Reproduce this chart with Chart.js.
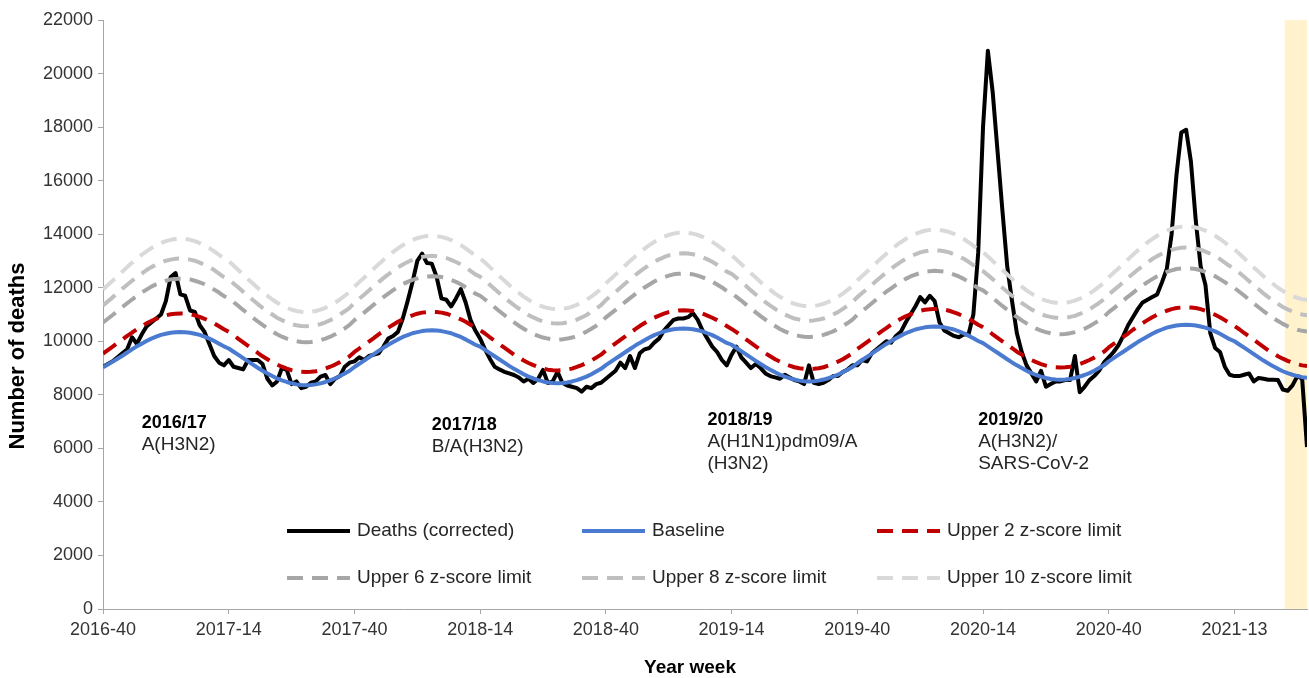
<!DOCTYPE html>
<html>
<head>
<meta charset="utf-8">
<script src="https://cdn.jsdelivr.net/npm/chart.js@4.4.1/dist/chart.umd.min.js"></script>
<style>
  html, body { margin: 0; padding: 0; background: #fff; }
  #wrap { width: 1309px; height: 678px; position: relative; }
</style>
</head>
<body>
<div id="wrap"><canvas id="chart"></canvas></div>
<script>
// week categories, 2016-40 .. 2021-28 (2020 has 53 weeks)
var weekLabels = [];
(function () {
  var y = 2016, w = 40;
  while (!(y === 2021 && w > 28)) {
    weekLabels.push(y + '-' + (w < 10 ? '0' + w : w));
    w++;
    if (w > (y === 2020 ? 53 : 52)) { w = 1; y++; }
  }
})();

var tickEvery = 26;          // a label every 26 weeks
var shadeFrom = '2021-23';   // weeks still subject to reporting delay

// Deaths (corrected)
var deaths = [
  // 2016/17
  9050, 9150, 9250, 9400, 9550, 9700, 10150, 9900, 10250, 10550, 10700, 10850, 11000,
  11500, 12400, 12550, 11750, 11700, 11150, 11100, 10600, 10350, 9900, 9450, 9200, 9100,
  9300, 9050, 9000, 8950, 9300, 9300, 9300, 9150, 8600, 8350, 8500, 9000, 8930,
  8400, 8500, 8250, 8300, 8450, 8500, 8680, 8740, 8400, 8600, 8700, 9050, 9200,
  // 2017/18
  9250, 9400, 9300, 9450, 9500, 9550, 9800, 10100, 10200, 10350, 10850, 11500, 12200,
  13000, 13270, 12920, 12900, 12400, 11600, 11550, 11300, 11600, 11950, 11450, 10800, 10400,
  10100, 9700, 9350, 9050, 8950, 8860, 8800, 8740, 8650, 8500, 8600, 8440, 8600,
  8930, 8440, 8500, 8860, 8450, 8350, 8300, 8250, 8120, 8300, 8250, 8400, 8450,
  // 2018/19
  8600, 8750, 8900, 9200, 9000, 9450, 9000, 9550, 9700, 9750, 9950, 10100, 10400,
  10600, 10800, 10850, 10850, 10900, 11050, 10800, 10400, 10100, 9800, 9600, 9300, 9100,
  9500, 9800, 9400, 9200, 9000, 9150, 9000, 8800, 8700, 8650, 8600, 8750, 8650,
  8550, 8500, 8400, 9100, 8450, 8400, 8450, 8550, 8700, 8700, 8850, 8950, 9100,
  // 2019/20
  9100, 9300, 9250, 9550, 9700, 9850, 10000, 9950, 10200, 10350, 10700, 11000, 11300,
  11650, 11450, 11700, 11500, 10700, 10400, 10300, 10200, 10150, 10250, 10250, 11000, 13300,
  18000, 20850, 19300, 17100, 14900, 12800, 11500, 10300, 9600, 9100, 8800, 8500, 8900,
  8300, 8400, 8500, 8500, 8550, 8550, 9450, 8100, 8300, 8550, 8700, 8900, 9200,
  // 2020/21
  9400, 9600, 9850, 10200, 10600, 10900, 11200, 11450, 11550, 11650, 11750, 12200, 12700,
  14000, 16200, 17800, 17900, 16700, 14500, 12800, 12100, 10300, 9750, 9600, 9050, 8750,
  8700, 8700, 8750, 8800, 8500, 8630, 8600, 8560, 8560, 8550, 8200, 8150, 8350,
  8700, 8600, 6050
];

var baseline = [
  9030, 9130, 9240, 9350, 9460, 9580, 9700, 9810, 9910, 10010, 10100, 10170, 10240,
  10280, 10320, 10340, 10350, 10340, 10320, 10280, 10240, 10170, 10100, 10010, 9910, 9810,
  9730, 9610, 9490, 9370, 9250, 9130, 9010, 8900, 8800, 8700, 8610, 8540, 8480,
  8430, 8390, 8370, 8360, 8370, 8390, 8430, 8480, 8540, 8610, 8700, 8800, 8900,
  9040, 9160, 9280, 9400, 9520, 9640, 9760, 9870, 9970, 10070, 10160, 10230, 10300,
  10340, 10380, 10400, 10410, 10400, 10380, 10340, 10300, 10230, 10160, 10070, 9970, 9870,
  9800, 9680, 9560, 9440, 9320, 9200, 9080, 8970, 8870, 8770, 8680, 8610, 8550,
  8500, 8460, 8440, 8430, 8440, 8460, 8500, 8550, 8610, 8680, 8770, 8870, 8970,
  9110, 9230, 9350, 9470, 9590, 9710, 9830, 9940, 10040, 10140, 10230, 10300, 10370,
  10410, 10450, 10470, 10480, 10470, 10450, 10410, 10370, 10300, 10230, 10140, 10040, 9940,
  9870, 9750, 9630, 9510, 9390, 9270, 9150, 9040, 8940, 8840, 8750, 8680, 8620,
  8570, 8530, 8510, 8500, 8510, 8530, 8570, 8620, 8680, 8750, 8840, 8940, 9040,
  9180, 9300, 9420, 9540, 9660, 9780, 9900, 10010, 10110, 10210, 10300, 10370, 10440,
  10480, 10520, 10540, 10550, 10540, 10520, 10480, 10440, 10370, 10300, 10210, 10110, 10010,
  9930, 9810, 9690, 9570, 9450, 9330, 9210, 9100, 9000, 8900, 8810, 8740, 8680,
  8630, 8590, 8570, 8560, 8570, 8590, 8630, 8680, 8740, 8810, 8900, 9000, 9100,
  9250, 9370, 9490, 9610, 9730, 9850, 9970, 10080, 10180, 10280, 10370, 10440, 10510,
  10550, 10590, 10610, 10620, 10610, 10590, 10550, 10510, 10440, 10370, 10280, 10180, 10080,
  10000, 9880, 9760, 9640, 9520, 9400, 9280, 9170, 9070, 8970, 8880, 8810, 8750,
  8700, 8660, 8640
];

var upper2 = [
  9540, 9670, 9800, 9930, 10060, 10200, 10320, 10450, 10560, 10670, 10760, 10840, 10910,
  10970, 11010, 11030, 11040, 11030, 11010, 10970, 10910, 10840, 10760, 10670, 10560, 10450,
  10350, 10230, 10090, 9960, 9830, 9700, 9570, 9440, 9330, 9220, 9130, 9050, 8980,
  8920, 8880, 8860, 8850, 8860, 8880, 8920, 8980, 9050, 9130, 9220, 9330, 9440,
  9600, 9730, 9860, 9990, 10120, 10260, 10380, 10510, 10620, 10730, 10820, 10900, 10970,
  11030, 11070, 11090, 11100, 11090, 11070, 11030, 10970, 10900, 10820, 10730, 10620, 10510,
  10410, 10290, 10150, 10020, 9890, 9760, 9630, 9500, 9390, 9280, 9190, 9110, 9040,
  8980, 8940, 8920, 8910, 8920, 8940, 8980, 9040, 9110, 9190, 9280, 9390, 9500,
  9660, 9790, 9920, 10050, 10180, 10320, 10440, 10570, 10680, 10790, 10880, 10960, 11030,
  11090, 11130, 11150, 11160, 11150, 11130, 11090, 11030, 10960, 10880, 10790, 10680, 10570,
  10460, 10340, 10200, 10070, 9940, 9810, 9680, 9550, 9440, 9330, 9240, 9160, 9090,
  9030, 8990, 8970, 8960, 8970, 8990, 9030, 9090, 9160, 9240, 9330, 9440, 9550,
  9710, 9840, 9970, 10100, 10230, 10370, 10490, 10620, 10730, 10840, 10930, 11010, 11080,
  11140, 11180, 11200, 11210, 11200, 11180, 11140, 11080, 11010, 10930, 10840, 10730, 10620,
  10520, 10400, 10260, 10130, 10000, 9870, 9740, 9610, 9500, 9390, 9300, 9220, 9150,
  9090, 9050, 9030, 9020, 9030, 9050, 9090, 9150, 9220, 9300, 9390, 9500, 9610,
  9770, 9900, 10030, 10160, 10290, 10430, 10550, 10680, 10790, 10900, 10990, 11070, 11140,
  11200, 11240, 11260, 11270, 11260, 11240, 11200, 11140, 11070, 10990, 10900, 10790, 10680,
  10570, 10450, 10310, 10180, 10050, 9920, 9790, 9660, 9550, 9440, 9350, 9270, 9200,
  9140, 9100, 9080
];

var upper6 = [
  10700, 10840, 10980, 11130, 11280, 11420, 11560, 11690, 11820, 11930, 12040, 12130, 12200,
  12260, 12310, 12330, 12340, 12330, 12310, 12260, 12200, 12130, 12040, 11930, 11820, 11690,
  11600, 11460, 11320, 11170, 11020, 10880, 10740, 10610, 10480, 10370, 10260, 10170, 10100,
  10040, 10000, 9970, 9960, 9970, 10000, 10040, 10100, 10170, 10260, 10370, 10480, 10610,
  10790, 10930, 11070, 11220, 11370, 11510, 11650, 11780, 11910, 12020, 12130, 12220, 12290,
  12350, 12400, 12420, 12430, 12420, 12400, 12350, 12290, 12220, 12130, 12020, 11910, 11780,
  11700, 11560, 11420, 11270, 11120, 10980, 10840, 10710, 10580, 10470, 10360, 10270, 10200,
  10140, 10100, 10070, 10060, 10070, 10100, 10140, 10200, 10270, 10360, 10470, 10580, 10710,
  10890, 11030, 11170, 11320, 11470, 11610, 11750, 11880, 12010, 12120, 12230, 12320, 12390,
  12450, 12500, 12520, 12530, 12520, 12500, 12450, 12390, 12320, 12230, 12120, 12010, 11880,
  11800, 11660, 11520, 11370, 11220, 11080, 10940, 10810, 10680, 10570, 10460, 10370, 10300,
  10240, 10200, 10170, 10160, 10170, 10200, 10240, 10300, 10370, 10460, 10570, 10680, 10810,
  10990, 11130, 11270, 11420, 11570, 11710, 11850, 11980, 12110, 12220, 12330, 12420, 12490,
  12550, 12600, 12620, 12630, 12620, 12600, 12550, 12490, 12420, 12330, 12220, 12110, 11980,
  11900, 11760, 11620, 11470, 11320, 11180, 11040, 10910, 10780, 10670, 10560, 10470, 10400,
  10340, 10300, 10270, 10260, 10270, 10300, 10340, 10400, 10470, 10560, 10670, 10780, 10910,
  11090, 11230, 11370, 11520, 11670, 11810, 11950, 12080, 12210, 12320, 12430, 12520, 12590,
  12650, 12700, 12720, 12730, 12720, 12700, 12650, 12590, 12520, 12430, 12320, 12210, 12080,
  11990, 11850, 11710, 11560, 11410, 11270, 11130, 11000, 10870, 10760, 10650, 10560, 10490,
  10430, 10390, 10360
];

var upper8 = [
  11340, 11490, 11640, 11800, 11960, 12110, 12260, 12400, 12530, 12660, 12770, 12860, 12940,
  13010, 13050, 13080, 13090, 13080, 13050, 13010, 12940, 12860, 12770, 12660, 12530, 12400,
  12310, 12160, 12010, 11850, 11690, 11540, 11390, 11250, 11120, 11000, 10880, 10790, 10710,
  10640, 10600, 10570, 10560, 10570, 10600, 10640, 10710, 10790, 10880, 11000, 11120, 11250,
  11440, 11590, 11740, 11900, 12060, 12210, 12360, 12500, 12630, 12760, 12870, 12960, 13040,
  13110, 13150, 13180, 13190, 13180, 13150, 13110, 13040, 12960, 12870, 12760, 12630, 12500,
  12410, 12260, 12110, 11950, 11790, 11640, 11490, 11350, 11220, 11100, 10980, 10890, 10810,
  10740, 10700, 10670, 10660, 10670, 10700, 10740, 10810, 10890, 10980, 11100, 11220, 11350,
  11540, 11690, 11840, 12000, 12160, 12310, 12460, 12600, 12730, 12860, 12970, 13060, 13140,
  13210, 13250, 13280, 13290, 13280, 13250, 13210, 13140, 13060, 12970, 12860, 12730, 12600,
  12520, 12370, 12220, 12060, 11900, 11750, 11600, 11460, 11330, 11210, 11090, 11000, 10920,
  10850, 10810, 10780, 10770, 10780, 10810, 10850, 10920, 11000, 11090, 11210, 11330, 11460,
  11650, 11800, 11950, 12110, 12270, 12420, 12570, 12710, 12840, 12970, 13080, 13170, 13250,
  13320, 13360, 13390, 13400, 13390, 13360, 13320, 13250, 13170, 13080, 12970, 12840, 12710,
  12620, 12470, 12320, 12160, 12000, 11850, 11700, 11560, 11430, 11310, 11190, 11100, 11020,
  10950, 10910, 10880, 10870, 10880, 10910, 10950, 11020, 11100, 11190, 11310, 11430, 11560,
  11750, 11900, 12050, 12210, 12370, 12520, 12670, 12810, 12940, 13070, 13180, 13270, 13350,
  13420, 13460, 13490, 13500, 13490, 13460, 13420, 13350, 13270, 13180, 13070, 12940, 12810,
  12710, 12560, 12410, 12250, 12090, 11940, 11790, 11650, 11520, 11400, 11280, 11190, 11110,
  11040, 11000, 10970
];

var upper10 = [
  11930, 12100, 12260, 12430, 12600, 12770, 12930, 13080, 13230, 13360, 13480, 13580, 13670,
  13740, 13790, 13820, 13830, 13820, 13790, 13740, 13670, 13580, 13480, 13360, 13230, 13080,
  12990, 12830, 12660, 12490, 12320, 12160, 11990, 11840, 11700, 11560, 11440, 11340, 11250,
  11180, 11130, 11100, 11090, 11100, 11130, 11180, 11250, 11340, 11440, 11560, 11700, 11840,
  12040, 12210, 12370, 12540, 12710, 12880, 13040, 13190, 13340, 13470, 13590, 13690, 13780,
  13850, 13900, 13930, 13940, 13930, 13900, 13850, 13780, 13690, 13590, 13470, 13340, 13190,
  13100, 12940, 12770, 12600, 12430, 12270, 12100, 11950, 11810, 11670, 11550, 11450, 11360,
  11290, 11240, 11210, 11200, 11210, 11240, 11290, 11360, 11450, 11550, 11670, 11810, 11950,
  12160, 12330, 12490, 12660, 12830, 13000, 13160, 13310, 13460, 13590, 13710, 13810, 13900,
  13970, 14020, 14050, 14060, 14050, 14020, 13970, 13900, 13810, 13710, 13590, 13460, 13310,
  13210, 13050, 12880, 12710, 12540, 12380, 12210, 12060, 11920, 11780, 11660, 11560, 11470,
  11400, 11350, 11320, 11310, 11320, 11350, 11400, 11470, 11560, 11660, 11780, 11920, 12060,
  12270, 12440, 12600, 12770, 12940, 13110, 13270, 13420, 13570, 13700, 13820, 13920, 14010,
  14080, 14130, 14160, 14170, 14160, 14130, 14080, 14010, 13920, 13820, 13700, 13570, 13420,
  13330, 13170, 13000, 12830, 12660, 12500, 12330, 12180, 12040, 11900, 11780, 11680, 11590,
  11520, 11470, 11440, 11430, 11440, 11470, 11520, 11590, 11680, 11780, 11900, 12040, 12180,
  12390, 12560, 12720, 12890, 13060, 13230, 13390, 13540, 13690, 13820, 13940, 14040, 14130,
  14200, 14250, 14280, 14290, 14280, 14250, 14200, 14130, 14040, 13940, 13820, 13690, 13540,
  13430, 13270, 13100, 12930, 12760, 12600, 12430, 12280, 12140, 12000, 11880, 11780, 11690,
  11620, 11570, 11540
];

// season notes
var noteWeeks   = ['2016-48', '2018-04', '2019-09', '2020-13'];
var noteValues  = [6950, 6870, 7060, 7060];
var noteSeasons = ['2016/17', '2017/18', '2018/19', '2019/20'];
var noteStrains = [['A(H3N2)'], ['B/A(H3N2)'], ['A(H1N1)pdm09/A', '(H3N2)'], ['A(H3N2)/', 'SARS-CoV-2']];

var FONT = "'Liberation Sans', Arial, sans-serif";
Chart.defaults.font.family = FONT;

function pts(arr) {
  return arr.map(function (v, i) { return { x: i, y: v }; });
}

var shadePlugin = {
  id: 'shade',
  beforeDatasetsDraw: function (chart) {
    var a = chart.chartArea, ctx = chart.ctx;
    var x0 = chart.scales.x.getPixelForValue(weekLabels.indexOf(shadeFrom) + 0.4);
    ctx.save();
    ctx.fillStyle = '#fff2cc';
    ctx.fillRect(x0, a.top, a.right - x0, a.bottom - a.top);
    ctx.restore();
  }
};

var notesPlugin = {
  id: 'notes',
  afterDatasetsDraw: function (chart) {
    var ctx = chart.ctx, xs = chart.scales.x, ys = chart.scales.y;
    ctx.save();
    ctx.textBaseline = 'middle';
    ctx.textAlign = 'left';
    for (var n = 0; n < noteSeasons.length; n++) {
      var x = xs.getPixelForValue(weekLabels.indexOf(noteWeeks[n]));
      var y = ys.getPixelForValue(noteValues[n]);
      ctx.fillStyle = '#000';
      ctx.font = 'bold 18px ' + FONT;
      ctx.fillText(noteSeasons[n], x, y);
      ctx.fillStyle = '#262626';
      ctx.font = '19px ' + FONT;
      for (var k = 0; k < noteStrains[n].length; k++) {
        ctx.fillText(noteStrains[n][k], x, y + 22 * (k + 1));
      }
    }
    ctx.restore();
  }
};

// axis titles sit off-centre in the original, so they are drawn here
var titlesPlugin = {
  id: 'axisTitles',
  afterDraw: function (chart) {
    var ctx = chart.ctx, a = chart.chartArea;
    ctx.save();
    ctx.fillStyle = '#000';
    ctx.textAlign = 'center';
    ctx.textBaseline = 'middle';
    ctx.font = 'bold 19px ' + FONT;
    ctx.fillText('Year week', a.left + 587, 668);
    ctx.translate(18, a.top + 336);
    ctx.rotate(-Math.PI / 2);
    ctx.font = 'bold 22px ' + FONT;
    ctx.fillText('Number of deaths', 0, 0);
    ctx.restore();
  }
};

var legendPlugin = {
  id: 'boxLegend',
  afterDraw: function (chart) {
    var ctx = chart.ctx, a = chart.chartArea;
    ctx.save();
    chart.data.datasets.forEach(function (ds, j) {
      var col = j % 3, row = Math.floor(j / 3);
      var x = a.left + 184 + col * 295;
      var y = a.bottom - 78 + row * 47;
      ctx.beginPath();
      ctx.setLineDash(ds.borderDash || []);
      ctx.lineWidth = ds.borderWidth;
      ctx.strokeStyle = ds.borderColor;
      ctx.moveTo(x, y);
      ctx.lineTo(x + 63, y);
      ctx.stroke();
      ctx.setLineDash([]);
      ctx.fillStyle = '#262626';
      ctx.font = '19px ' + FONT;
      ctx.textBaseline = 'middle';
      ctx.fillText(ds.label, x + 70, y);
    });
    ctx.restore();
  }
};

var dash = [16, 9];

new Chart(document.getElementById('chart'), {
  type: 'line',
  data: {
    datasets: [
      { label: 'Deaths (corrected)', data: pts(deaths), borderColor: '#000000', borderWidth: 4, order: 6 },
      { label: 'Baseline', data: pts(baseline), borderColor: '#4a7bd0', borderWidth: 4, order: 5 },
      { label: 'Upper 2 z-score limit', data: pts(upper2), borderColor: '#c00000', borderWidth: 4, borderDash: dash, order: 4 },
      { label: 'Upper 6 z-score limit', data: pts(upper6), borderColor: '#a6a6a6', borderWidth: 4, borderDash: dash, order: 3 },
      { label: 'Upper 8 z-score limit', data: pts(upper8), borderColor: '#bfbfbf', borderWidth: 4, borderDash: dash, order: 2 },
      { label: 'Upper 10 z-score limit', data: pts(upper10), borderColor: '#d9d9d9', borderWidth: 4, borderDash: dash, order: 1 }
    ]
  },
  options: {
    responsive: true,
    maintainAspectRatio: false,
    animation: false,
    devicePixelRatio: 1,
    layout: { padding: { top: 20, right: 2, left: 0, bottom: 0 } },
    elements: {
      point: { radius: 0 },
      line: { tension: 0, borderJoinStyle: 'round', borderCapStyle: 'butt', fill: false }
    },
    plugins: {
      legend: { display: false },
      tooltip: { enabled: false }
    },
    scales: {
      x: {
        type: 'linear',
        min: 0,
        max: weekLabels.length - 1,
        afterFit: function (s) { s.height = 69; },
        grid: { drawOnChartArea: false, drawTicks: true, tickLength: 5, color: '#a6a6a6' },
        border: { display: true, color: '#a6a6a6', width: 1 },
        ticks: {
          stepSize: tickEvery,
          includeBounds: false,
          autoSkip: false,
          maxRotation: 0,
          padding: 5,
          color: '#333',
          font: { size: 18 },
          callback: function (v) { return weekLabels[v]; }
        }
      },
      y: {
        min: 0,
        max: 22000,
        afterFit: function (s) { s.width = 103; },
        grid: { drawOnChartArea: false, drawTicks: true, tickLength: 5, color: '#a6a6a6' },
        border: { display: true, color: '#a6a6a6', width: 1 },
        ticks: {
          stepSize: 2000,
          padding: 5,
          color: '#333',
          font: { size: 18 },
          callback: function (v) { return String(v); }
        }
      }
    }
  },
  plugins: [shadePlugin, notesPlugin, titlesPlugin, legendPlugin]
});
</script>
</body>
</html>
